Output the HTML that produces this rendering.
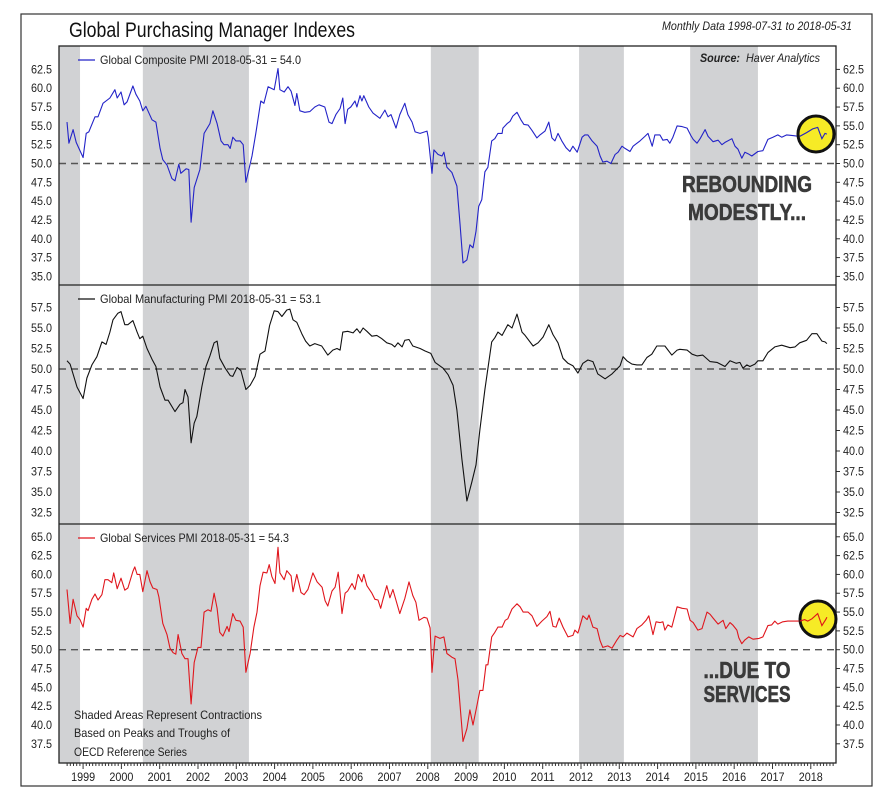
<!DOCTYPE html>
<html><head><meta charset="utf-8"><style>
body{margin:0;background:#fff;}
svg text{font-family:"Liberation Sans Narrow","Liberation Sans",sans-serif;}
</style></head><body>
<svg id="chart" width="881" height="791" xmlns="http://www.w3.org/2000/svg"></svg>
<script>
const shadeStarts=[1998.3,2000.56,2008.08,2011.95,2014.85];
const shadeEnds=[1998.92,2003.33,2009.33,2013.12,2016.62];
const years=[1999,2000,2001,2002,2003,2004,2005,2006,2007,2008,2009,2010,2011,2012,2013,2014,2015,2016,2017,2018];
const compDates=[1998.58,1998.63,1998.74,1998.82,1999.00,1999.08,1999.15,1999.31,1999.39,1999.52,1999.70,1999.83,1999.89,1999.99,2000.07,2000.15,2000.30,2000.38,2000.48,2000.56,2000.64,2000.80,2000.90,2001.01,2001.08,2001.19,2001.32,2001.40,2001.50,2001.55,2001.69,2001.76,2001.82,2001.90,2002.05,2002.16,2002.31,2002.39,2002.50,2002.60,2002.68,2002.78,2002.84,2002.91,2002.99,2003.10,2003.18,2003.25,2003.41,2003.51,2003.64,2003.72,2003.83,2003.99,2004.09,2004.14,2004.25,2004.35,2004.43,2004.53,2004.58,2004.66,2004.79,2004.92,2005.05,2005.16,2005.31,2005.42,2005.50,2005.60,2005.71,2005.78,2005.84,2005.91,2005.99,2006.10,2006.15,2006.23,2006.28,2006.33,2006.46,2006.57,2006.75,2006.88,2006.96,2007.04,2007.17,2007.27,2007.40,2007.48,2007.59,2007.67,2007.80,2007.98,2008.01,2008.11,2008.16,2008.27,2008.37,2008.42,2008.50,2008.63,2008.76,2008.84,2008.92,2009.02,2009.10,2009.18,2009.26,2009.33,2009.41,2009.49,2009.57,2009.67,2009.75,2009.83,2009.94,2009.96,2010.07,2010.15,2010.22,2010.33,2010.43,2010.51,2010.62,2010.72,2010.85,2010.93,2011.06,2011.16,2011.24,2011.32,2011.40,2011.50,2011.61,2011.71,2011.79,2011.90,2012.03,2012.10,2012.18,2012.29,2012.42,2012.50,2012.57,2012.68,2012.78,2012.89,2012.97,2013.07,2013.15,2013.28,2013.36,2013.54,2013.67,2013.75,2013.86,2013.93,2014.06,2014.14,2014.25,2014.32,2014.40,2014.51,2014.64,2014.77,2014.87,2014.93,2015.03,2015.11,2015.24,2015.32,2015.45,2015.58,2015.68,2015.76,2015.94,2016.02,2016.10,2016.20,2016.28,2016.36,2016.46,2016.62,2016.75,2016.88,2017.01,2017.14,2017.24,2017.37,2017.53,2017.71,2017.89,2018.05,2018.18,2018.29,2018.37,2018.42];
const compValues=[55.5,52.7,54.5,52.8,50.8,54,54.2,56.2,56.2,58,58.7,59.8,58.7,59.5,57.8,58.2,60.3,59.2,58.3,57,57.6,55.8,55.5,52,50.5,49.8,48,47.7,49.9,48.7,49.3,49.2,42.2,46.8,49.2,54,55.3,57,55.3,53,52.5,52.5,52,53.5,53,53,52.5,47.5,51,54,58.3,58,60.2,59.8,62.6,59.8,59.5,60.2,59.6,57.7,59.3,57,56.8,56.9,57.5,57.8,57.5,55.5,55.3,56.5,57.3,58.7,55.3,57.2,57.5,58.3,57.5,59,58.3,59,57.5,56.7,56,57.1,56.2,56.5,54.7,56.5,58,56.5,55.5,54.2,54,54.3,53.5,48.7,51.8,51.2,51,51.5,49.5,48.8,47,42,36.8,37.2,39.2,38.8,41,44.3,45.2,48.9,49.5,53,53.3,54,54,54.7,55.3,55.6,56.3,56.8,55.8,55.2,55.1,54.4,53.4,53.8,54.3,55.5,53.4,53,54,53,52.1,51.6,52.3,51.5,53.5,53.8,53.8,53,52.3,51,50.2,50.3,50,51.2,51.5,52.3,52,51.6,52.3,53,53.6,54,52.3,53.8,53.8,53.1,53.2,52.7,53.5,55,54.9,54.7,53.7,53.2,52.7,53.3,54.5,53.6,52.9,53.1,52.5,52.8,53.3,52.3,51.9,50.7,51.5,51.3,51,51.6,51.7,53.2,53.5,53.8,53.5,53.8,53.7,53.6,54.1,54.6,54.8,53.3,54,53.9];
const mfgDates=[1998.58,1998.66,1998.84,1999.00,1999.10,1999.23,1999.36,1999.49,1999.60,1999.70,1999.78,1999.91,1999.99,2000.09,2000.17,2000.30,2000.41,2000.48,2000.56,2000.67,2000.80,2000.90,2001.01,2001.14,2001.22,2001.40,2001.53,2001.61,2001.66,2001.74,2001.82,2001.90,2001.97,2002.10,2002.21,2002.31,2002.42,2002.50,2002.57,2002.71,2002.84,2002.91,2003.02,2003.12,2003.25,2003.36,2003.49,2003.62,2003.75,2003.87,2003.99,2004.09,2004.19,2004.32,2004.40,2004.48,2004.58,2004.71,2004.81,2004.92,2005.05,2005.23,2005.39,2005.52,2005.63,2005.71,2005.78,2005.91,2006.05,2006.15,2006.23,2006.31,2006.41,2006.54,2006.67,2006.80,2006.93,2007.06,2007.14,2007.22,2007.33,2007.40,2007.51,2007.61,2007.80,2007.93,2008.08,2008.19,2008.40,2008.53,2008.66,2008.76,2008.89,2009.02,2009.15,2009.26,2009.36,2009.49,2009.67,2009.75,2009.83,2009.94,2010.09,2010.20,2010.33,2010.46,2010.54,2010.75,2010.88,2011.01,2011.16,2011.27,2011.40,2011.53,2011.66,2011.79,2011.92,2012.05,2012.18,2012.31,2012.44,2012.63,2012.81,2013.02,2013.10,2013.20,2013.33,2013.46,2013.59,2013.72,2013.85,2013.98,2014.19,2014.37,2014.51,2014.58,2014.77,2014.90,2015.03,2015.18,2015.37,2015.55,2015.76,2015.89,2016.05,2016.15,2016.23,2016.33,2016.41,2016.54,2016.62,2016.75,2016.88,2017.06,2017.24,2017.46,2017.59,2017.71,2017.89,2018.03,2018.16,2018.29,2018.37,2018.42];
const mfgValues=[51,50.6,47.8,46.4,48.9,50.5,51.5,53.3,53,54.5,56,56.8,57,55.4,55.4,55.9,54.5,53.7,54,52.5,51.2,50.3,47.8,46.2,46.2,44.8,45.7,45.9,47.5,46.6,41,43.4,44.2,47.8,50.3,51.6,53.2,53.4,51.3,50.1,49.2,49.1,50.2,49.8,47.5,48,49.1,51.8,52.2,55.3,57.1,57,56.4,57.2,57.3,56,55.7,54.3,53.4,52.8,53.1,52.8,51.7,52.3,52.5,52.3,54.5,54.6,54.4,54.9,54.4,55,54.6,54,54.1,53.7,53.2,53,52.7,53.2,52.7,53.5,53.6,52.8,52.5,52.2,51.9,50.8,50.1,49.3,48,45,39,33.9,36.2,38.3,42.6,47.5,53.3,53.8,54.5,54.1,55.4,55,56.7,54.5,54.1,52.8,53.2,53.9,55.4,54.2,53.2,51.3,50.7,50.4,49.5,50.7,51.1,50.9,49.4,48.8,49.4,50.4,51.5,51,50.6,50.5,50.5,51.4,51.8,52.8,52.8,51.7,52.3,52.4,52.3,51.8,51.6,51.7,50.9,50.8,50.3,51,50.7,50.8,50.1,50.5,50.3,50.6,51,51,52,52.7,52.9,52.6,52.7,53.2,53.5,54.3,54.3,53.4,53.3,53.1];
const svcDates=[1998.58,1998.66,1998.74,1998.84,1998.92,1999.00,1999.08,1999.13,1999.23,1999.31,1999.39,1999.49,1999.57,1999.65,1999.75,1999.80,1999.89,1999.99,2000.09,2000.17,2000.30,2000.35,2000.41,2000.48,2000.56,2000.67,2000.75,2000.82,2000.93,2000.98,2001.08,2001.19,2001.27,2001.35,2001.42,2001.48,2001.58,2001.66,2001.74,2001.82,2001.90,2002.00,2002.08,2002.16,2002.26,2002.34,2002.42,2002.50,2002.57,2002.65,2002.76,2002.81,2002.91,2002.99,2003.10,2003.18,2003.25,2003.36,2003.46,2003.54,2003.62,2003.70,2003.80,2003.86,2003.93,2004.01,2004.09,2004.14,2004.25,2004.32,2004.43,2004.48,2004.58,2004.69,2004.77,2004.87,2005.00,2005.11,2005.24,2005.32,2005.39,2005.50,2005.58,2005.66,2005.76,2005.84,2005.91,2006.02,2006.10,2006.18,2006.28,2006.33,2006.41,2006.54,2006.62,2006.70,2006.77,2006.83,2006.93,2007.01,2007.09,2007.27,2007.40,2007.51,2007.61,2007.69,2007.77,2007.90,2007.98,2008.06,2008.11,2008.19,2008.32,2008.42,2008.50,2008.63,2008.71,2008.79,2008.92,2009.02,2009.10,2009.18,2009.28,2009.36,2009.44,2009.52,2009.57,2009.67,2009.75,2009.83,2009.94,2010.02,2010.09,2010.20,2010.33,2010.41,2010.49,2010.62,2010.72,2010.85,2010.98,2011.11,2011.19,2011.27,2011.35,2011.43,2011.53,2011.66,2011.79,2011.84,2011.92,2012.05,2012.16,2012.21,2012.31,2012.42,2012.50,2012.57,2012.70,2012.81,2012.94,2013.02,2013.10,2013.20,2013.36,2013.46,2013.59,2013.70,2013.77,2013.88,2013.96,2014.06,2014.14,2014.19,2014.27,2014.37,2014.51,2014.64,2014.77,2014.85,2014.93,2015.05,2015.16,2015.29,2015.37,2015.45,2015.58,2015.71,2015.78,2015.89,2015.96,2016.07,2016.12,2016.20,2016.28,2016.38,2016.49,2016.65,2016.75,2016.88,2016.98,2017.06,2017.14,2017.27,2017.40,2017.59,2017.71,2017.84,2017.92,2018.03,2018.18,2018.29,2018.39,2018.42];
const svcValues=[58,53.5,56.7,54.5,54,53,55.5,55.2,56.7,57.4,56.6,57.3,59.3,59.3,58.9,60.2,58.1,59.5,57.9,58.2,60.4,61,60,60,57.7,60.5,59,58.2,58,57,53.5,52,50.2,49.6,49.4,52,49.5,48.8,48.8,42.8,48.3,50.3,50.3,55,55.3,55.1,57.5,55.5,52.3,51.8,53.1,52.4,54.8,53.9,53.8,53,47,49.5,53,55,58.5,60.3,60.2,61.3,59.7,58.8,63.6,60.2,59.3,60.5,59.8,57.7,60,57.6,57.3,58,60.2,59,58.3,56.5,55.8,57.8,58.3,60.3,54.8,57.5,57.8,58.8,58,60,59,60,58.5,57.5,56.7,56.6,55.5,56.7,58.5,56.9,58,54.8,56.8,59,57.2,56.3,53.9,54.3,54.2,52.9,47,51.8,51.5,51.7,49.5,49,48.8,46,37.8,39.5,42,40,42.5,44.6,44.6,48,48,51.7,52.3,53,53,53.9,54.1,55.4,56.1,55.7,55,55,54.5,53.1,53.8,54.4,55.1,53.1,53,54.2,53,51.7,51.9,52.6,52.2,54.5,54,54.6,53,52.8,51.2,50.3,50.5,50.2,51.3,51.9,51.7,52.2,51.7,52.8,53.3,53.9,54.5,52,53.7,53.6,53.7,52.6,53.3,53,55.7,55.5,55.4,53.9,53.6,52.6,52.8,55,54.7,54.2,53.4,53.9,52.8,53.6,53.3,52.6,51.6,50.8,51.3,51.7,51.4,51.5,51.7,53.2,53.3,53.8,53.4,53.7,53.8,53.8,53.8,54,53.8,54.1,54.8,53.2,54,54.3];
const compTicks=[35,37.5,40,42.5,45,47.5,50,52.5,55,57.5,60,62.5];
const mfgTicks=[32.5,35,37.5,40,42.5,45,47.5,50,52.5,55,57.5];
const svcTicks=[37.5,40,42.5,45,47.5,50,52.5,55,57.5,60,62.5,65];

const NS='http://www.w3.org/2000/svg';
const svg=document.getElementById('chart');
const L=59,R=836,TOP=46,BOT=763;
function x(t){return 67+(t-1998.58)*38.3;}
function mk(tag,attrs,parent){const e=document.createElementNS(NS,tag);for(const k in attrs)e.setAttribute(k,attrs[k]);(parent||svg).appendChild(e);return e;}
function txt(s,attrs){const e=mk('text',attrs);e.textContent=s;return e;}
function fit(e,w){e.setAttribute('textLength',w);e.setAttribute('lengthAdjust','spacingAndGlyphs');}

const fr=mk('rect',{x:21,y:14,width:851,height:772,fill:'none',stroke:'#333','stroke-width':1.2});



for(let i=0;i<shadeStarts.length;i++){
  const x0=Math.max(L,x(shadeStarts[i])),x1=x(shadeEnds[i]);
  const r=mk('rect',{x:x0,y:TOP,width:x1-x0,height:BOT-TOP,fill:'#d1d2d4'});
  
  
}

const panels=[
 {name:'composite',y50:163.5,pp:18.82/2.5,ticks:compTicks,d:compDates,v:compValues,color:'#2323c8',legend:'Global Composite PMI 2018-05-31 = 54.0',lw:201,ly:60},
 {name:'manufacturing',y50:369,pp:20.5/2.5,ticks:mfgTicks,d:mfgDates,v:mfgValues,color:'#111',legend:'Global Manufacturing PMI 2018-05-31 = 53.1',lw:221,ly:299},
 {name:'services',y50:649.7,pp:18.82/2.5,ticks:svcTicks,d:svcDates,v:svcValues,color:'#e0161d',legend:'Global Services PMI 2018-05-31 = 54.3',lw:189,ly:538}
];
panels.forEach(p=>{
  const y=v=>p.y50-(v-50)*p.pp;
  p.ticks.forEach(t=>{
    const yy=y(t);
    const a=txt(t.toFixed(1),{x:52,y:yy+4,'font-size':12,'text-anchor':'end',fill:'#222'});
    fit(a,21);
    
    
    const b=txt(t.toFixed(1),{x:843,y:yy+4,'font-size':12,fill:'#222'});
    fit(b,21);
    
    
    mk('line',{x1:836,x2:840,y1:yy,y2:yy,stroke:'#333'});
  });
  const dl=mk('line',{x1:L,x2:R,y1:p.y50,y2:p.y50,stroke:'#555','stroke-width':1.4,'stroke-dasharray':'7,5'});
  
  
  const pts=p.d.map((d,i)=>x(d).toFixed(1)+','+y(p.v[i]).toFixed(1)).join(' ');
  const pl=mk('polyline',{points:pts,fill:'none',stroke:p.color,'stroke-width':1.1,'stroke-linejoin':'round'});
  
  
  mk('line',{x1:78,x2:95,y1:p.ly,y2:p.ly,stroke:p.color,'stroke-width':1.2});
  const lg=txt(p.legend,{x:100,y:p.ly+4,'font-size':12,fill:'#222'});
  fit(lg,p.lw);
  
  
});
[285,524].forEach(yy=>{const l=mk('line',{x1:L,x2:R,y1:yy,y2:yy,stroke:'#222','stroke-width':1.3});
 
 });
const pb=mk('rect',{x:L,y:TOP,width:R-L,height:BOT-TOP,fill:'none',stroke:'#222','stroke-width':1.3});



for(let m=0;m<=240;m++){
  const t=1998+7/12+m/12; if(x(t)>R) break;
  const major=Math.abs(t-Math.round(t))<0.01;
  mk('line',{x1:x(t),x2:x(t),y1:BOT,y2:BOT+(major?6:3),stroke:'#333'});
}
years.forEach(yr=>{
  const a=txt(String(yr),{x:x(yr),y:781,'font-size':12,'text-anchor':'middle',fill:'#222'});
  fit(a,24);
  
  
});

[[816,134],[818,619]].forEach(c=>{
  const e=mk('circle',{cx:c[0],cy:c[1],r:18,fill:'#f5e800','fill-opacity':0.85,stroke:'#111','stroke-width':3});
  
  
});
panels.forEach(p=>{
  const y=v=>p.y50-(v-50)*p.pp;
  if(p.name==='manufacturing')return;
  const idx=p.d.map((d,i)=>i).filter(i=>p.d[i]>=2017.7);
  const pts=idx.map(i=>x(p.d[i]).toFixed(1)+','+y(p.v[i]).toFixed(1)).join(' ');
  const pl=mk('polyline',{points:pts,fill:'none',stroke:p.color,'stroke-width':1.1});
  
  
});

const t1=txt('Global Purchasing Manager Indexes',{x:69,y:37,'font-size':21,fill:'#111'});
fit(t1,286);


const t2=txt('Monthly Data 1998-07-31 to 2018-05-31',{x:662,y:30,'font-size':12,'font-style':'italic',fill:'#222'});
fit(t2,190);


const t3a=txt('Source:',{x:700,y:62,'font-size':12,'font-weight':'bold','font-style':'italic',fill:'#222'});
fit(t3a,40);


const t3=txt('Haver Analytics',{x:746,y:62,'font-size':12,'font-style':'italic',fill:'#222'});
fit(t3,74);


[['REBOUNDING',192,130],['MODESTLY...',220,118],['...DUE TO',678,87],['SERVICES',702,87]].forEach(a=>{
  const e=txt(a[0],{x:747-a[2]/2,y:a[1],'font-size':23,'font-weight':'bold',fill:'#3a3a3a',stroke:'#3a3a3a','stroke-width':0.6});
  fit(e,a[2]);
  
  
});
[['Shaded Areas Represent Contractions',719,188],['Based on Peaks and Troughs of',737,156],['OECD Reference Series',756,113]].forEach(a=>{
  const e=txt(a[0],{x:74,y:a[1],'font-size':12,fill:'#222'});
  fit(e,a[2]);
  
  
});
</script>
</body></html>
